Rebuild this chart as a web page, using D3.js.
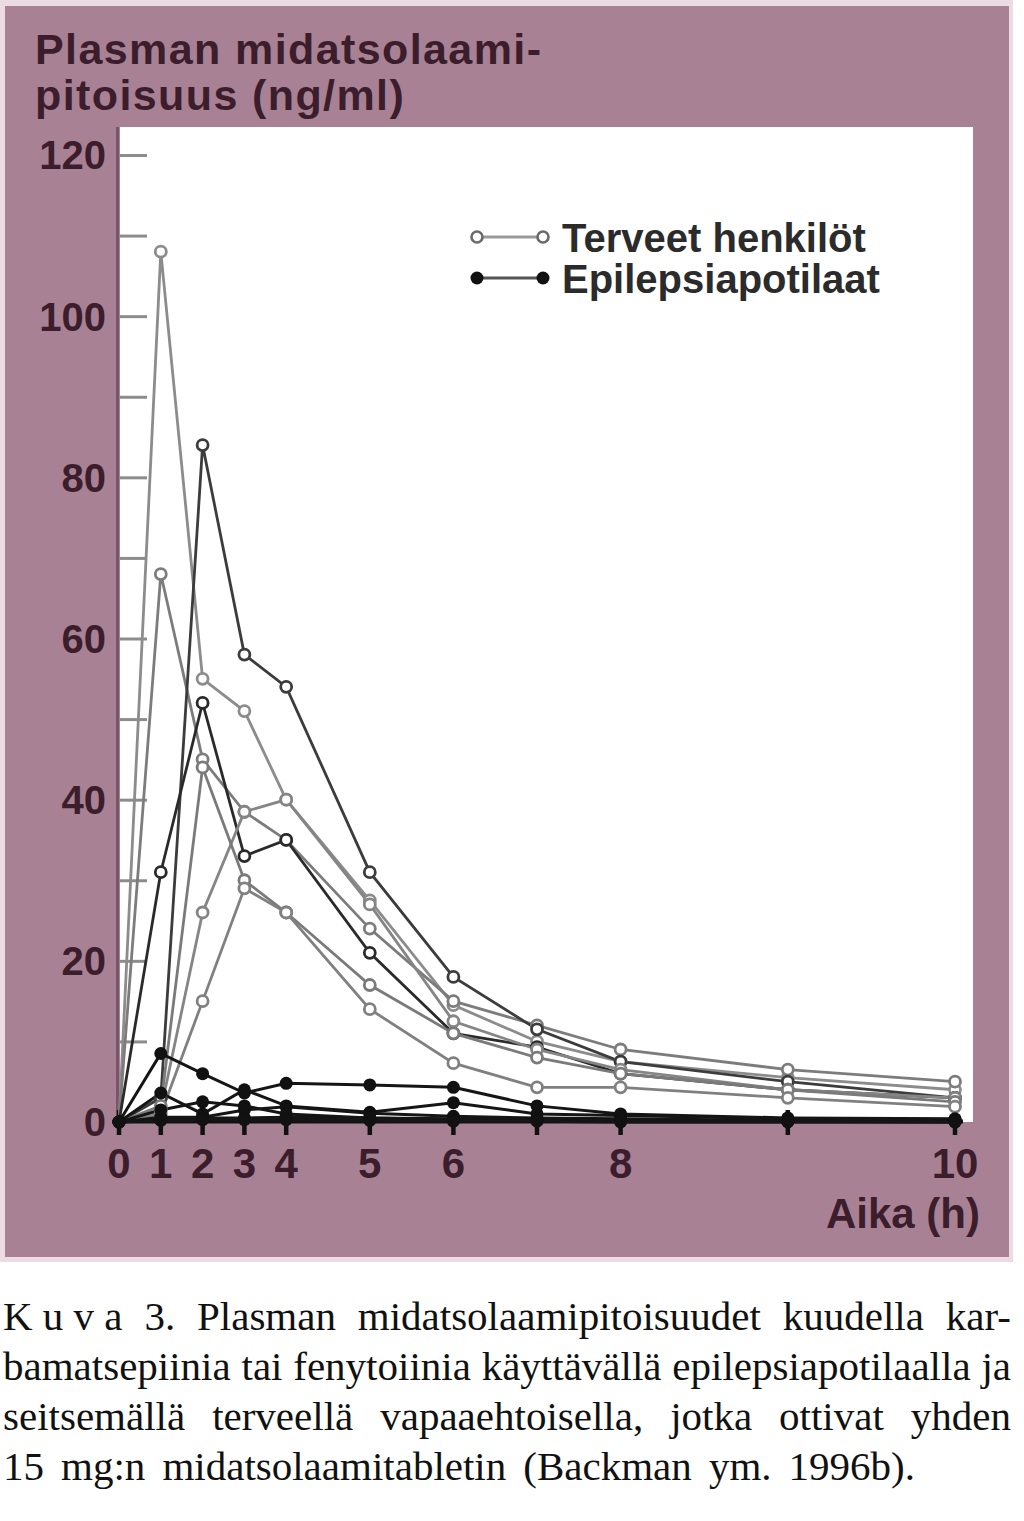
<!DOCTYPE html>
<html><head><meta charset="utf-8">
<script src="https://cdn.jsdelivr.net/npm/d3@7/dist/d3.min.js"></script>
<style>body{margin:0;background:#fff}svg{display:block}</style>
</head><body><svg id="c" width="1024" height="1521"></svg>
<script>
// ---- data ----
const times = [0, 0.5, 1, 1.5, 2, 3, 4, 5, 6, 8, 10];
const xTickLabels = ["0", "1", "2", "3", "4", "5", "6", "", "8", "", "10"];
const yTickValues = [0, 10, 20, 30, 40, 50, 60, 70, 80, 90, 100, 110, 120];
const yTickLabels = ["0", "", "20", "", "40", "", "60", "", "80", "", "100", "", "120"];

// Terveet henkilöt (healthy volunteers), ng/ml
const healthy1 = [0, 108, 55, 51, 40, 27.5, 14.5, 10, 7.5, 5.5, 4];
const healthy2 = [0, 68, 45, 38.5, 35, 24, 15, 12, 9, 6.5, 5];
const healthy3 = [0, 3, 84, 58, 54, 31, 18, 11.5, 7.5, 5, 3];
const healthy4 = [0, 31, 52, 33, 35, 21, 11, 9.3, 6, 4, 3];
const healthy5 = [0, 1.5, 26, 38.5, 40, 27, 12.5, 9, 6.5, 4, 3];
const healthy6 = [0, 2, 44, 30, 26, 17, 11, 8, 6, 4, 2.5];
const healthy7 = [0, 1, 15, 29, 26, 14, 7.3, 4.3, 4.3, 3, 1.9];
// Epilepsiapotilaat (epilepsy patients), ng/ml
const epilepsy1 = [0, 8.5, 6.0, 3.6, 4.8, 4.6, 4.3, 2.0, 1.0, 0.5, 0.4];
const epilepsy2 = [0, 3.6, 1.0, 4.0, 2.0, 1.2, 2.4, 1.0, 0.8, 0.4, 0.3];
const epilepsy3 = [0, 0.6, 0.6, 1.5, 1.9, 1.1, 0.7, 0.5, 0.4, 0.2, 0.2];
const epilepsy4 = [0, 0.3, 0.5, 0.5, 0.6, 0.5, 0.4, 0.3, 0.2, 0.1, 0.1];
const epilepsy5 = [0, 1.5, 2.5, 2.0, 1.0, 0.5, 0.3, 0.2, 0.1, 0.1, 0];
const epilepsy6 = [0, 0.2, 0.3, 0.3, 0.3, 0.2, 0.1, 0.1, 0, 0, 0];

const healthySeries = [healthy1, healthy2, healthy3, healthy4, healthy5, healthy6, healthy7];
const epilepsySeries = [epilepsy1, epilepsy2, epilepsy3, epilepsy4, epilepsy5, epilepsy6];

const titleLines = ["Plasman midatsolaami-", "pitoisuus (ng/ml)"];
const xAxisTitle = "Aika (h)";
const legendLabels = ["Terveet henkilöt", "Epilepsiapotilaat"];
const captionLines = [
  ["K u v a", "3.", "Plasman", "midatsolaamipitoisuudet", "kuudella", "kar-"],
  ["bamatsepiinia", "tai", "fenytoiinia", "käyttävällä", "epilepsiapotilaalla", "ja"],
  ["seitsemällä", "terveellä", "vapaaehtoisella,", "jotka", "ottivat", "yhden"],
  ["15", "mg:n", "midatsolaamitabletin", "(Backman", "ym.", "1996b)."]
];

// line shades per healthy subject (style, kept apart from the values)
const healthyShades = ["#8c8c8c", "#7c7c7c", "#3c3c3c", "#2a2a2a", "#858585", "#7a7a7a", "#808080"];

// ---- drawing ----
const svg = d3.select("#c");
const MAUVE = "#a88294", DARK = "#3b1d2c";
const SANS = "'Liberation Sans', Arial, sans-serif";

svg.append("rect").attr("x", 0).attr("y", 0).attr("width", 1013).attr("height", 1262).attr("fill", "#ecdbe2");
svg.append("rect").attr("x", 5).attr("y", 6).attr("width", 1004).attr("height", 1251).attr("fill", MAUVE);

const x = d3.scaleLinear().domain([0, 10]).range([119, 955]);
const y = d3.scaleLinear().domain([0, 120]).range([1122, 155]);

// plot area
svg.append("rect").attr("x", 120).attr("y", 127).attr("width", 853).attr("height", 995).attr("fill", "#fff");

// titles
const tt = svg.append("text").attr("fill", DARK)
  .attr("font-family", SANS).attr("font-weight", "bold")
  .attr("font-size", 43).attr("letter-spacing", 1.4);
titleLines.forEach((t, i) => tt.append("tspan").attr("x", 35).attr("y", 64 + i * 46).text(t));

// y axis
const yAxis = d3.axisRight(y).tickValues(yTickValues).tickSize(27).tickFormat("");
const gy = svg.append("g").attr("transform", "translate(120,0)").call(yAxis);
gy.select(".domain").remove();
gy.selectAll(".tick line").attr("stroke", "#8c8c8c").attr("stroke-width", 3);
svg.append("line").attr("x1", 117.5).attr("x2", 117.5).attr("y1", 127).attr("y2", 1124)
  .attr("stroke", "#7a5468").attr("stroke-width", 3);
svg.append("g").selectAll("text").data(yTickValues).join("text")
  .attr("x", 106).attr("y", d => y(d)).attr("dy", "0.36em").attr("text-anchor", "end")
  .attr("fill", DARK).attr("font-family", SANS)
  .attr("font-weight", "bold").attr("font-size", 40)
  .text((d, i) => yTickLabels[i]);

// x axis
const xAxis = d3.axisBottom(x).tickValues(times).tickSize(0).tickFormat("");
const gx = svg.append("g").attr("transform", "translate(0,1122)").call(xAxis);
gx.select(".domain").remove();
svg.append("line").attr("x1", 117).attr("x2", 963).attr("y1", 1121.5).attr("y2", 1121.5)
  .attr("stroke", "#111").attr("stroke-width", 4);
svg.append("g").selectAll("line").data(times).join("line")
  .attr("x1", d => x(d)).attr("x2", d => x(d)).attr("y1", 1110).attr("y2", 1135)
  .attr("stroke", "#111").attr("stroke-width", 4.5);
svg.append("g").selectAll("text").data(times).join("text")
  .attr("x", d => x(d)).attr("y", 1178).attr("text-anchor", "middle")
  .attr("fill", DARK).attr("font-family", SANS)
  .attr("font-weight", "bold").attr("font-size", 42)
  .text((d, i) => xTickLabels[i]);
svg.append("text").attr("x", 980).attr("y", 1228).attr("text-anchor", "end")
  .attr("fill", DARK).attr("font-family", SANS)
  .attr("font-weight", "bold").attr("font-size", 42).text(xAxisTitle);

// series
const line = d3.line().x(d => x(d.t)).y(d => y(d.v));
const toPts = arr => arr.map((v, i) => ({ t: times[i], v }));
const plot = svg.append("g");
plot.selectAll("path.h").data(healthySeries).join("path").attr("class", "h")
  .attr("d", s => line(toPts(s))).attr("fill", "none")
  .attr("stroke", (s, i) => healthyShades[i]).attr("stroke-width", 2.8);
plot.selectAll("path.e").data(epilepsySeries).join("path").attr("class", "e")
  .attr("d", s => line(toPts(s))).attr("fill", "none").attr("stroke", "#151515").attr("stroke-width", 3);
healthySeries.forEach((s, si) => {
  plot.append("g").selectAll("circle").data(toPts(s).slice(1)).join("circle")
    .attr("cx", d => x(d.t)).attr("cy", d => y(d.v)).attr("r", 5.5)
    .attr("fill", "#fff").attr("stroke", healthyShades[si]).attr("stroke-width", 2.8);
});
epilepsySeries.forEach(s => {
  plot.append("g").selectAll("circle").data(toPts(s)).join("circle")
    .attr("cx", d => x(d.t)).attr("cy", d => y(d.v)).attr("r", 6.5).attr("fill", "#111");
});

// legend
const lg = svg.append("g");
legendLabels.forEach((lab, i) => {
  const ly = 237 + i * 41;
  lg.append("line").attr("x1", 477).attr("x2", 543).attr("y1", ly).attr("y2", ly)
    .attr("stroke", i === 0 ? "#9a9a9a" : "#555").attr("stroke-width", 3);
  [477, 543].forEach(cx => {
    if (i === 0) lg.append("circle").attr("cx", cx).attr("cy", ly).attr("r", 5.5)
      .attr("fill", "#fff").attr("stroke", "#6a6a6a").attr("stroke-width", 2.6);
    else lg.append("circle").attr("cx", cx).attr("cy", ly).attr("r", 6.5).attr("fill", "#111");
  });
  lg.append("text").attr("x", 562).attr("y", ly + 15).attr("fill", "#2b2b2b")
    .attr("font-family", SANS).attr("font-weight", "bold")
    .attr("font-size", 40).text(lab);
});

// caption (justified; last line set to its natural measure in the original)
const cap = svg.append("g").attr("font-family", "'Liberation Serif', 'Times New Roman', serif")
  .attr("font-size", 41).attr("fill", "#111");
const left = 3;
const lineRights = [1011, 1011, 1011, 915];
captionLines.forEach((words, li) => {
  const by = 1330 + li * 50;
  const nodes = words.map(w => cap.append("text").attr("y", by).text(w));
  const widths = nodes.map(n => n.node().getComputedTextLength());
  const gap = (lineRights[li] - left - d3.sum(widths)) / (words.length - 1);
  let cx = left;
  nodes.forEach((n, i) => { n.attr("x", cx); cx += widths[i] + gap; });
});
</script></body></html>
